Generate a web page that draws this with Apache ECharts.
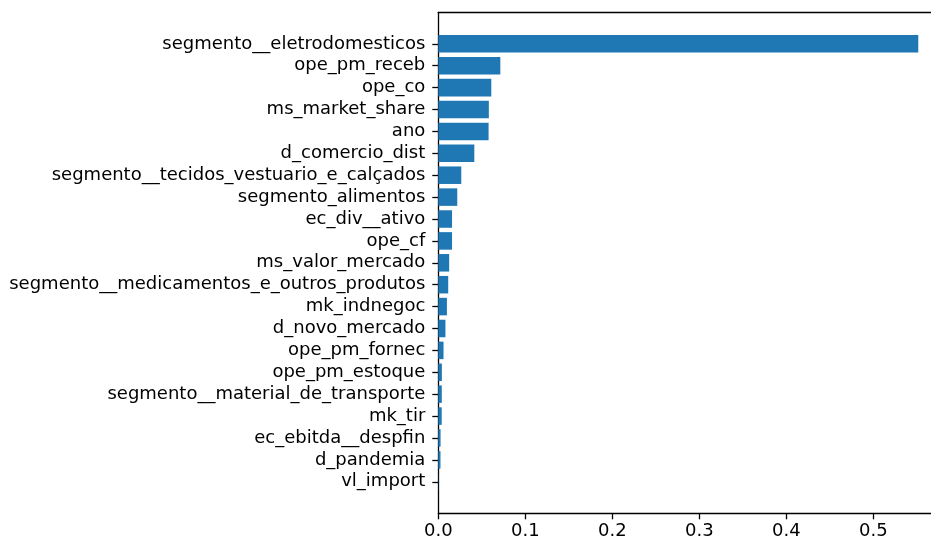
<!DOCTYPE html>
<html>
<head>
<meta charset="utf-8">
<script src="https://cdn.jsdelivr.net/npm/echarts@6/dist/echarts.min.js"></script>
<style>
  html, body { margin: 0; padding: 0; background: #fff; }
  #chart { width: 931px; height: 543px; }
</style>
</head>
<body>
<div id="chart"></div>
<script>
// Feature importances, listed bottom-to-top (smallest first)
const features = [
  'vl_import',
  'd_pandemia',
  'ec_ebitda__despfin',
  'mk_tir',
  'segmento__material_de_transporte',
  'ope_pm_estoque',
  'ope_pm_fornec',
  'd_novo_mercado',
  'mk_indnegoc',
  'segmento__medicamentos_e_outros_produtos',
  'ms_valor_mercado',
  'ope_cf',
  'ec_div__ativo',
  'segmento_alimentos',
  'segmento__tecidos_vestuario_e_calçados',
  'd_comercio_dist',
  'ano',
  'ms_market_share',
  'ope_co',
  'ope_pm_receb',
  'segmento__eletrodomesticos'
];
const importances = [
  0.0002, 0.0025, 0.0026, 0.0039, 0.0040, 0.0041, 0.0060, 0.0082, 0.0099,
  0.0114, 0.0125, 0.0158, 0.0158, 0.0218, 0.0264, 0.0414, 0.0578, 0.0581,
  0.0609, 0.0713, 0.5517
];
const xTickStep = 0.1;

// Frame box in pixels; the plot runs past the right edge of the canvas
const canvasWidth = 931;
const frameLeft = 438.3, frameTop = 12.3, frameHeight = 501;
const pxPerX = 870;                      // pixels per unit of importance
const frameWidth = canvasWidth - frameLeft;
const xMax = frameWidth / pxPerX;        // visible part of the x range

// Vertical extent with a 5% margin around the bars
const n = features.length;
const yLo = -0.4 - 0.05 * (n - 1 + 0.8);
const yHi = (n - 1) + 0.4 + 0.05 * (n - 1 + 0.8);
const pxPerY = frameHeight / (yHi - yLo);
const bandTop = frameTop + (yHi - (n - 1) - 0.5) * pxPerY;
const bandHeight = n * pxPerY;

const font = 'DejaVu Sans';
const ink = '#000';
const spine = { show: true, lineStyle: { color: ink, width: 1.3 } };
const tick = { show: true, length: 6, lineStyle: { color: ink, width: 1.3 } };

const chart = echarts.init(document.getElementById('chart'), null, { renderer: 'canvas' });

chart.setOption({
  animation: false,
  backgroundColor: '#fff',
  grid: [
    { left: frameLeft, top: frameTop, width: frameWidth, height: frameHeight },
    { left: frameLeft, top: bandTop, width: frameWidth, height: bandHeight }
  ],
  xAxis: [
    {
      gridIndex: 0, type: 'value', position: 'bottom', min: 0, max: xMax, interval: xTickStep,
      axisLine: spine,
      axisTick: tick,
      axisLabel: {
        color: ink, fontSize: 18, fontFamily: font, margin: 9,
        showMaxLabel: false,
        formatter: v => v.toFixed(1)
      },
      splitLine: { show: false }
    },
    {
      gridIndex: 0, type: 'value', position: 'top', min: 0, max: 1,
      axisLine: spine,
      axisTick: { show: false }, axisLabel: { show: false }, splitLine: { show: false }
    },
    {
      gridIndex: 1, type: 'value', min: 0, max: xMax, show: false
    }
  ],
  yAxis: [
    {
      gridIndex: 0, type: 'value', min: 0, max: 1,
      axisLine: spine,
      axisTick: { show: false }, axisLabel: { show: false }, splitLine: { show: false }
    },
    {
      gridIndex: 1, type: 'category', data: features,
      axisLine: { show: false },
      axisTick: Object.assign({ alignWithLabel: true, interval: 0 }, tick),
      axisLabel: { interval: 0, color: ink, fontSize: 18, fontFamily: font, margin: 13 },
      splitLine: { show: false }
    }
  ],
  series: [
    {
      type: 'bar', xAxisIndex: 2, yAxisIndex: 1,
      data: importances,
      barWidth: '80%',
      itemStyle: { color: '#1f77b4' },
      silent: true
    }
  ]
});
</script>
</body>
</html>
